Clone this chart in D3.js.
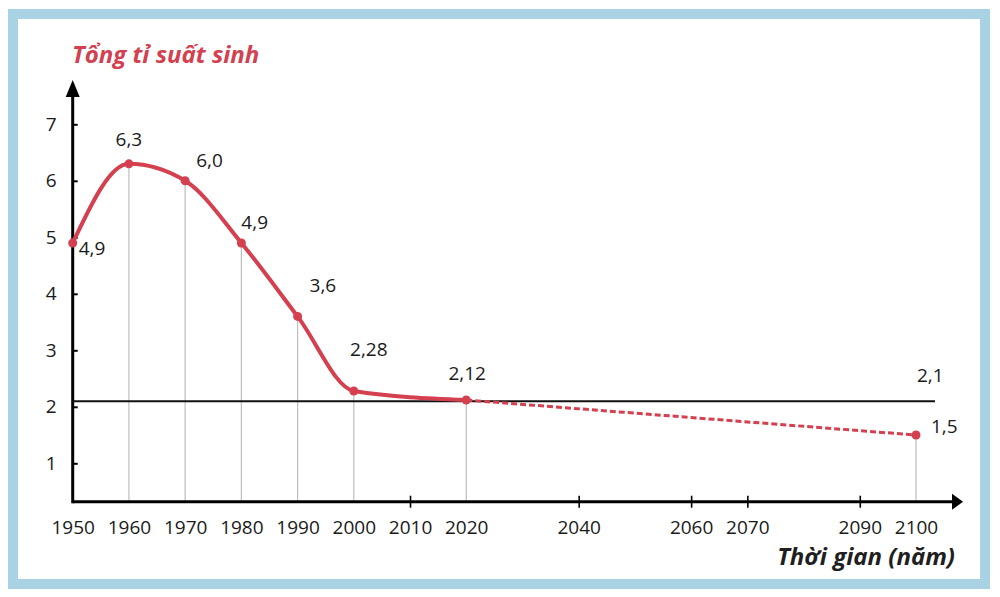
<!DOCTYPE html>
<html>
<head>
<meta charset="utf-8">
<script src="https://cdn.jsdelivr.net/npm/d3@7"></script>
<style>
  body { margin: 0; background: #fff; }
  svg { display: block; font-family: 'Open Sans', 'Noto Sans', sans-serif; }
</style>
</head>
<body>
<div class="canvas"></div>
<script>
// Tổng tỉ suất sinh thế giới
const years = [1950, 1960, 1970, 1980, 1990, 2000, 2020]
const values = [4.9, 6.3, 6.0, 4.9, 3.6, 2.28, 2.12]
const labels = ['4,9', '6,3', '6,0', '4,9', '3,6', '2,28', '2,12']
const projYears = [2020, 2100]
const projValues = [2.12, 1.5]
const projLabels = ['2,12', '1,5']
const replacement = 2.1
const replacementLabel = '2,1'
const tickYears = [1950, 1960, 1970, 1980, 1990, 2000, 2010, 2020, 2040, 2060, 2070, 2090, 2100]
const yTicks = [1, 2, 3, 4, 5, 6, 7]

// label placement (dx, dy from the point), not data
const labelNudge = [[6, 12, 'start'], [0, -18, 'middle'], [11, -14, 'start'], [0, -14, 'start'],
  [12, -24, 'start'], [15, -35, 'middle'], [1, -20, 'middle']]

const width = 1000, height = 597
const red = '#d4404f'
const fs = 19

const svg = d3.select('.canvas').append('svg')
  .attr('width', width).attr('height', height)

// frame
svg.append('rect')
  .attr('x', 13).attr('y', 14).attr('width', 972).attr('height', 570)
  .attr('fill', '#fff').attr('stroke', '#a9d3e4').attr('stroke-width', 10)

const x = d3.scaleLinear().domain([1950, 2100]).range([72.7, 916])
const y = d3.scaleLinear().domain([0, 7]).range([519.8, 124.3])
const baseY = y(0.32)

// vertical guides from points down to the axis
const allYears = years.concat([2100])
const allValues = values.concat([1.5])
svg.append('g').selectAll('line')
  .data(d3.zip(allYears, allValues).filter(d => d[0] !== 1950))
  .join('line')
  .attr('x1', d => x(d[0])).attr('x2', d => x(d[0]))
  .attr('y1', d => y(d[1])).attr('y2', baseY)
  .attr('stroke', '#bdbdbd').attr('stroke-width', 1.2)

// x axis
const xAxis = d3.axisBottom(x).tickValues(tickYears).tickFormat(d3.format('d'))
  .tickSizeInner(6).tickSizeOuter(0).tickPadding(12.5)
const gx = svg.append('g').attr('transform', `translate(0,${baseY})`).call(xAxis)
gx.select('.domain').remove()
gx.selectAll('.tick line').attr('y1', -6).attr('stroke', '#000').attr('stroke-width', 1.6)
  .filter(d => allYears.includes(d)).remove()
gx.selectAll('.tick text').attr('font-size', fs).attr('fill', '#1a1a1a')
  .attr('font-family', "'Open Sans', sans-serif")
svg.append('line').attr('x1', 72.7).attr('x2', 952).attr('y1', baseY).attr('y2', baseY)
  .attr('stroke', '#000').attr('stroke-width', 3)
svg.append('path').attr('d', `M952,${baseY - 8}L963,${baseY}L952,${baseY + 8}Z`).attr('fill', '#000')

// y axis
const yAxis = d3.axisLeft(y).tickValues(yTicks).tickFormat(d3.format('d'))
  .tickSizeInner(5).tickSizeOuter(0).tickPadding(11)
const gy = svg.append('g').attr('transform', 'translate(72.7,0)').call(yAxis)
gy.select('.domain').remove()
gy.selectAll('.tick line').attr('x2', 5).attr('stroke', '#000').attr('stroke-width', 2)
gy.selectAll('.tick text').attr('font-size', fs).attr('fill', '#1a1a1a')
  .attr('font-family', "'Open Sans', sans-serif")
svg.append('line').attr('x1', 72.7).attr('x2', 72.7).attr('y1', baseY + 1.5).attr('y2', 95)
  .attr('stroke', '#000').attr('stroke-width', 3)
svg.append('path').attr('d', 'M65.7,97L72.7,80L79.7,97Z').attr('fill', '#000')

// replacement level line
svg.append('line')
  .attr('x1', 72.7).attr('x2', 935).attr('y1', y(replacement)).attr('y2', y(replacement))
  .attr('stroke', '#111').attr('stroke-width', 2)
svg.append('text').attr('x', x(2100) + 1).attr('y', y(replacement) - 19)
  .attr('font-size', fs).attr('fill', '#1a1a1a').text(replacementLabel)

// projection (dashed)
svg.append('path')
  .datum(d3.zip(projYears, projValues))
  .attr('d', d3.line().x(d => x(d[0])).y(d => y(d[1])))
  .attr('fill', 'none').attr('stroke', red).attr('stroke-width', 3)
  .attr('stroke-dasharray', '6,3')

// observed line
svg.append('path')
  .datum(d3.zip(years, values))
  .attr('d', d3.line().curve(d3.curveMonotoneX).x(d => x(d[0])).y(d => y(d[1])))
  .attr('fill', 'none').attr('stroke', red).attr('stroke-width', 4)
  .attr('stroke-linecap', 'round')

// dots
svg.append('g').selectAll('circle')
  .data(d3.zip(allYears, allValues))
  .join('circle')
  .attr('cx', d => x(d[0])).attr('cy', d => y(d[1])).attr('r', 4.5)
  .attr('fill', red)

// point labels
svg.append('g').selectAll('text')
  .data(d3.zip(years, values, labels, labelNudge))
  .join('text')
  .attr('x', d => x(d[0]) + d[3][0]).attr('y', d => y(d[1]) + d[3][1])
  .attr('text-anchor', d => d[3][2])
  .attr('font-size', fs).attr('fill', '#1a1a1a')
  .text(d => d[2])
svg.append('text').attr('x', x(projYears[1]) + 15).attr('y', y(projValues[1]) - 2)
  .attr('font-size', fs).attr('fill', '#1a1a1a').text(projLabels[1])

// titles
svg.append('text').attr('x', 72).attr('y', 63)
  .attr('font-size', 24).attr('font-weight', 700).attr('font-style', 'italic')
  .attr('fill', red).text('Tổng tỉ suất sinh')
svg.append('text').attr('x', 955).attr('y', 565).attr('text-anchor', 'end')
  .attr('font-size', 24).attr('font-weight', 700).attr('font-style', 'italic')
  .attr('fill', '#1f1f1f').text('Thời gian (năm)')
</script>
</body>
</html>
